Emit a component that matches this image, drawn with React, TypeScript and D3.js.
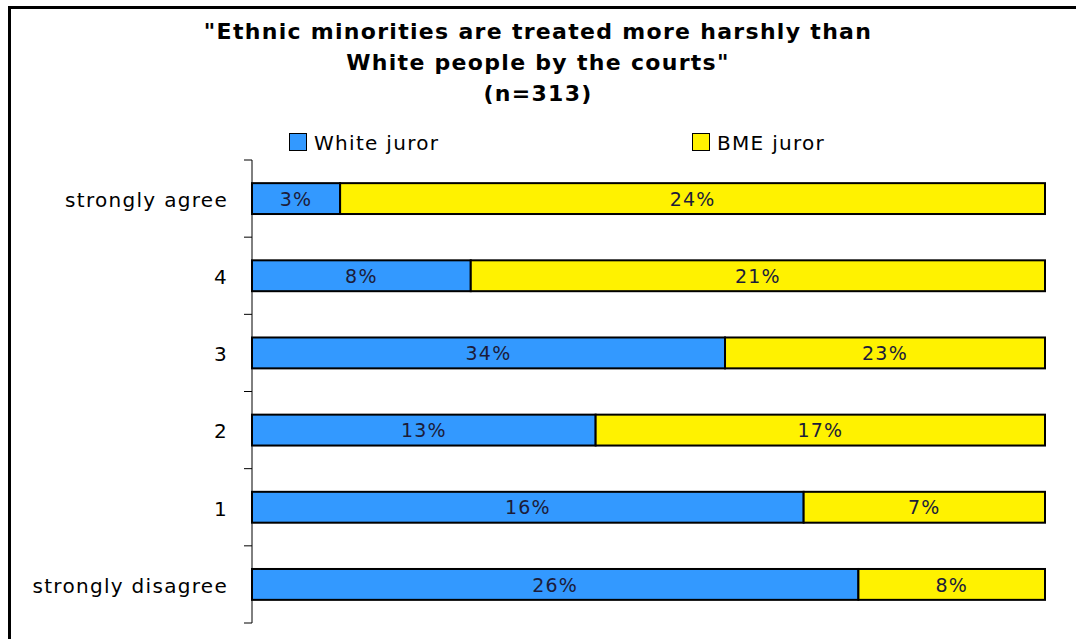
import React from "react";
import * as d3 from "d3";

const categories = ["strongly agree", "4", "3", "2", "1", "strongly disagree"];
const seriesNames = ["White juror", "BME juror"];
const whiteJuror = [3, 8, 34, 13, 16, 26];
const bmeJuror = [24, 21, 23, 17, 7, 8];
const colors = ["#3399ff", "#fff200"];

const W = 1076;
const H = 639;
const FONT = "'DejaVu Sans', Verdana, sans-serif";

export default function App() {
  const rows = categories.map((c, i) => ({ cat: c, w: whiteJuror[i], b: bmeJuror[i] }));
  const stack = d3
    .stack<any>()
    .keys(["w", "b"])
    .offset(d3.stackOffsetExpand)(rows);

  const x = d3.scaleLinear().domain([0, 1]).range([252, 1045]);
  const y = d3
    .scaleBand<string>()
    .domain(categories)
    .range([160, 623])
    .paddingInner(0.6)
    .paddingOuter(0.3);

  const step = y.step();
  const tickYs = d3.range(categories.length + 1).map((i) => 160 + i * step);

  const titleLines = [
    "\"Ethnic minorities are treated more harshly than",
    "White people by the courts\"",
    "(n=313)",
  ];

  return (
    <svg
      width={W}
      height={H}
      style={{ position: "absolute", left: 0, top: 0, background: "#fff" }}
      fontFamily={FONT}
    >
      <rect x={9.5} y={7.5} width={W + 20} height={H + 20} fill="#fff" stroke="#000" strokeWidth={3} />

      {titleLines.map((t, i) => (
        <text
          key={i}
          x={538}
          y={39 + i * 31}
          textAnchor="middle"
          fontWeight="bold"
          fontSize={22}
          letterSpacing={1.3}
          fill="#000"
        >
          {t}
        </text>
      ))}

      {/* legend */}
      {seriesNames.map((s, i) => {
        const lx = i === 0 ? 289 : 692;
        return (
          <g key={s}>
            <rect x={lx + 0.5} y={133.5} width={17} height={17} fill={colors[i]} stroke="#000" strokeWidth={1} />
            <text x={lx + 25} y={150} fontSize={20} letterSpacing={1.3} fill="#000">
              {s}
            </text>
          </g>
        );
      })}

      {/* axis */}
      <line x1={252} x2={252} y1={tickYs[0]} y2={tickYs[tickYs.length - 1]} stroke="#000" strokeWidth={1} />
      {tickYs.map((ty, i) => (
        <line key={i} x1={244} x2={252} y1={ty} y2={ty} stroke="#000" strokeWidth={1} />
      ))}
      {categories.map((c) => (
        <text
          key={c}
          x={228}
          y={(y(c) as number) + y.bandwidth() / 2}
          dy="0.42em"
          textAnchor="end"
          fontSize={20}
          letterSpacing={1.3}
          fill="#000"
        >
          {c}
        </text>
      ))}

      {/* bars */}
      {stack.map((layer, si) => (
        <g key={si}>
          {layer.map((d, i) => {
            const x0 = x(d[0]);
            const x1 = x(d[1]);
            const by = y(categories[i]) as number;
            const val = si === 0 ? whiteJuror[i] : bmeJuror[i];
            return (
              <g key={i}>
                <rect
                  x={x0 + 1}
                  y={by + 1}
                  width={x1 - x0}
                  height={y.bandwidth()}
                  fill="#bbb"
                  opacity={0.5}
                />
                <rect
                  x={x0}
                  y={by}
                  width={x1 - x0}
                  height={y.bandwidth()}
                  fill={colors[si]}
                  stroke="#000"
                  strokeWidth={2}
                />
                <text
                  x={(x0 + x1) / 2}
                  y={by + y.bandwidth() / 2}
                  dy="0.38em"
                  textAnchor="middle"
                  fontSize={19}
                  letterSpacing={1.2}
                  fill="#1c1c3a"
                >
                  {val}%
                </text>
              </g>
            );
          })}
        </g>
      ))}
    </svg>
  );
}
